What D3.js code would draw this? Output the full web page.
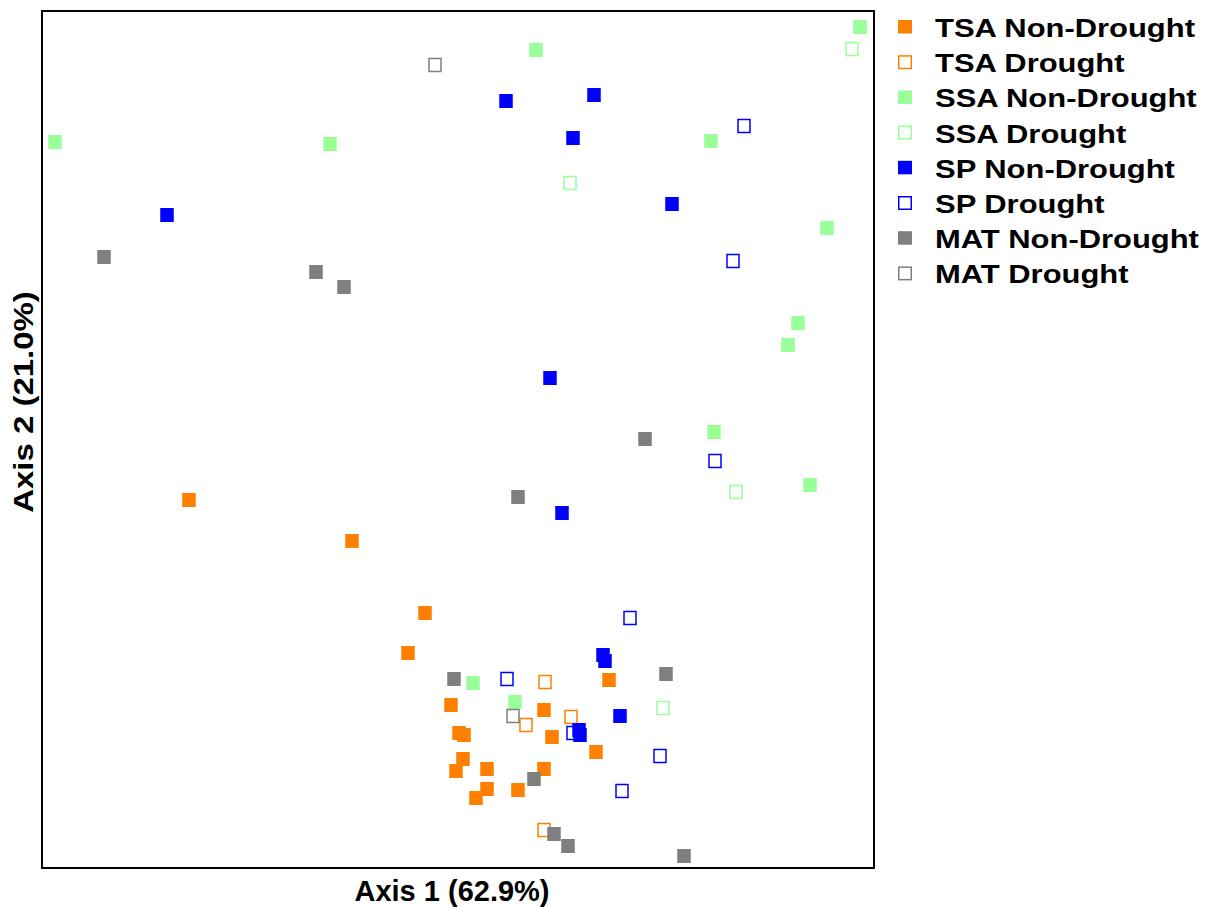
<!DOCTYPE html>
<html>
<head>
<meta charset="utf-8">
<script src="https://cdn.jsdelivr.net/npm/d3@7"></script>
<style>
  body { margin: 0; background: #fff; }
  text { font-family: "Liberation Sans", Arial, Helvetica, sans-serif; font-weight: bold; fill: #000; }
</style>
</head>
<body>
<div id="pcoa-chart"></div>
<script>
// Axis titles and legend entries
var axis1Title = "Axis 1 (62.9%)";
var axis2Title = "Axis 2 (21.0%)";
var legendLabels = ["TSA Non-Drought", "TSA Drought", "SSA Non-Drought", "SSA Drought",
                    "SP Non-Drought", "SP Drought", "MAT Non-Drought", "MAT Drought"];

// PCoA scores [axis1, axis2] for each group
var tsaNonDrought = [[-0.269,-0.060],[-0.106,-0.101],[-0.033,-0.173],[-0.050,-0.213],[0.151,-0.240],
  [-0.007,-0.265],[0.086,-0.270],[0.001,-0.293],[0.006,-0.295],[0.094,-0.297],[0.138,-0.312],
  [0.005,-0.319],[-0.002,-0.331],[0.029,-0.329],[0.086,-0.329],[0.029,-0.349],[0.018,-0.358],[0.060,-0.350]];
var tsaDrought = [[0.087,-0.242],[0.113,-0.277],[0.068,-0.285],[0.086,-0.390]];
var ssaNonDrought = [[0.402,0.413],[0.078,0.390],[-0.403,0.298],[-0.128,0.296],[0.253,0.299],[0.369,0.212],
  [0.340,0.117],[0.330,0.095],[0.256,0.008],[0.352,-0.045],[0.015,-0.243],[0.057,-0.262]];
var ssaDrought = [[0.394,0.391],[0.112,0.257],[0.278,-0.052],[0.205,-0.268]];
var spNonDrought = [[0.048,0.339],[0.136,0.345],[0.115,0.302],[0.214,0.236],[-0.291,0.225],[0.092,0.062],
  [0.104,-0.073],[0.145,-0.215],[0.147,-0.221],[0.162,-0.276],[0.121,-0.290],[0.122,-0.295]];
var spDrought = [[0.286,0.314],[0.275,0.179],[0.257,-0.021],[0.172,-0.178],[0.049,-0.239],[0.115,-0.293],
  [0.202,-0.316],[0.164,-0.351]];
var matNonDrought = [[-0.354,0.183],[-0.142,0.168],[-0.114,0.153],[0.187,0.001],[0.060,-0.057],[-0.004,-0.239],
  [0.208,-0.234],[0.076,-0.339],[0.096,-0.394],[0.110,-0.406],[0.226,-0.416]];
var matDrought = [[-0.023,0.375],[0.055,-0.276]];

var axis1Range = [-0.416, 0.416];
var axis2Range = [-0.428, 0.429];

var groupPoints = [tsaNonDrought, tsaDrought, ssaNonDrought, ssaDrought,
                   spNonDrought, spDrought, matNonDrought, matDrought];
var groupColors = ["#ff7f00", "#ff7f00", "#99ff99", "#99ff99", "#0000ff", "#0000ff", "#7f7f7f", "#7f7f7f"];
var groupFilled = [true, false, true, false, true, false, true, false];
// drought SP drawn before non-drought SP so the filled ones sit on top
var drawOrder = [0, 1, 2, 3, 5, 4, 6, 7];

PcoaPlot = function(_parentElement) {
  this.parentElement = _parentElement;
  this.margin = {top: 11, right: 338, bottom: 39, left: 42};
  this.width = 1212 - this.margin.left - this.margin.right;
  this.height = 907 - this.margin.top - this.margin.bottom;

  this.initVis();
}

PcoaPlot.prototype.initVis = function() {
  var vis = this;

  vis.root = d3.select("#" + vis.parentElement)
    .append("svg")
    .attr("width", 1212)
    .attr("height", 907)
    .style("display", "block");

  vis.svg = vis.root.append("g")
    .attr("transform", "translate(" + vis.margin.left + "," + vis.margin.top + ")");

  vis.x = d3.scaleLinear().domain(axis1Range).range([0, vis.width]);
  vis.y = d3.scaleLinear().domain(axis2Range).range([vis.height, 0]);

  vis.drawPoints();
  vis.drawFrame();
  vis.drawLegend();
}

PcoaPlot.prototype.drawPoints = function() {
  var vis = this;

  drawOrder.forEach(function(g) {
    var filled = groupFilled[g];
    var size = filled ? [13.5, 14] : [12, 13];

    vis.svg.append("g")
      .selectAll("rect")
      .data(groupPoints[g])
      .enter().append("rect")
      .attr("x", function(d) { return vis.x(d[0]) - size[0] / 2; })
      .attr("y", function(d) { return vis.y(d[1]) - size[1] / 2; })
      .attr("width", size[0])
      .attr("height", size[1])
      .attr("fill", filled ? groupColors[g] : "none")
      .attr("stroke", filled ? "none" : groupColors[g])
      .attr("stroke-width", 1.5);
  });
}

PcoaPlot.prototype.drawFrame = function() {
  var vis = this;

  vis.svg.append("rect")
    .attr("width", vis.width)
    .attr("height", vis.height)
    .attr("fill", "none")
    .attr("stroke", "#000")
    .attr("stroke-width", 2);

  vis.root.append("text")
    .attr("x", 452)
    .attr("y", 901)
    .attr("text-anchor", "middle")
    .style("font-size", "29px")
    .text(axis1Title);

  vis.root.append("g")
    .attr("transform", "translate(33,402) rotate(-90) scale(1.22,1)")
    .append("text")
    .attr("text-anchor", "middle")
    .style("font-size", "27px")
    .text(axis2Title);
}

PcoaPlot.prototype.drawLegend = function() {
  var vis = this;

  var rows = vis.root.append("g")
    .selectAll("g")
    .data(legendLabels)
    .enter().append("g")
    .attr("transform", function(d, i) { return "translate(0," + (i * 35.2) + ")"; });

  rows.append("rect")
    .attr("x", function(d, i) { return groupFilled[i] ? 898 : 898.75; })
    .attr("y", function(d, i) { return groupFilled[i] ? 20 : 20.75; })
    .attr("width", function(d, i) { return groupFilled[i] ? 14 : 12.5; })
    .attr("height", function(d, i) { return groupFilled[i] ? 13.5 : 12.5; })
    .attr("fill", function(d, i) { return groupFilled[i] ? groupColors[i] : "none"; })
    .attr("stroke", function(d, i) { return groupFilled[i] ? "none" : groupColors[i]; })
    .attr("stroke-width", 1.5);

  rows.append("g")
    .attr("transform", "translate(935,37) scale(1.19,1)")
    .append("text")
    .style("font-size", "26px")
    .text(function(d) { return d; });
}

var plot = new PcoaPlot("pcoa-chart");
</script>
</body>
</html>
